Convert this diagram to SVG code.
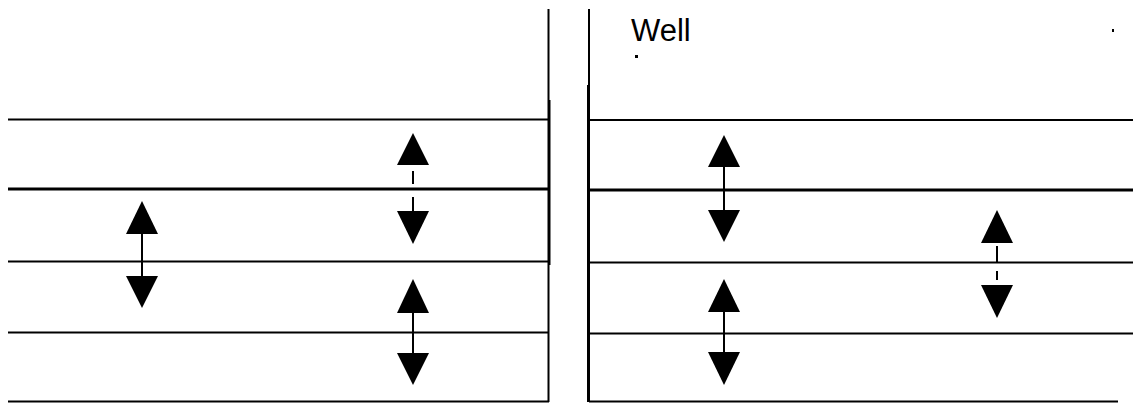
<svg xmlns="http://www.w3.org/2000/svg" width="1133" height="405" viewBox="0 0 1133 405">
<style>
.ln{stroke:#000;stroke-width:2;fill:none}
.thk{stroke:#000;stroke-width:3;fill:none}
.sh{stroke:#000;stroke-width:2;fill:none}
.hd{fill:#000;stroke:none}
.lbl{font-family:"Liberation Sans",Arial,sans-serif;font-size:31px;fill:#000}
</style>
<rect width="1133" height="405" fill="#fff"/>
<g id="panel-left">
<line class="ln" x1="8" y1="119.5" x2="549" y2="119.5"/>
<line class="thk" x1="8" y1="189" x2="549" y2="189"/>
<line class="ln" x1="8" y1="261.5" x2="549" y2="261.5"/>
<line class="ln" x1="8" y1="332.5" x2="549" y2="332.5"/>
<line class="ln" x1="8" y1="401.5" x2="549" y2="401.5"/>
<line class="ln" x1="548.5" y1="9" x2="548.5" y2="402"/>
<line class="ln" x1="549.5" y1="100" x2="549.5" y2="265"/>
</g>
<g id="panel-right">
<line class="ln" x1="589" y1="120" x2="1133" y2="120"/>
<line class="thk" x1="589" y1="190" x2="1133" y2="190"/>
<line class="ln" x1="589" y1="262.5" x2="1133" y2="262.5"/>
<line class="ln" x1="589" y1="333.5" x2="1133" y2="333.5"/>
<line class="ln" x1="589" y1="401.5" x2="1118" y2="401.5"/>
<line class="ln" x1="589" y1="9" x2="589" y2="402"/>
<line class="ln" x1="588" y1="85" x2="588" y2="402"/>
</g>
<g id="label-well">
<text class="lbl" x="631" y="41">Well</text>
<rect x="635" y="55" width="3" height="3" fill="#000"/>
<rect x="1112" y="29" width="2" height="3" fill="#000"/>
</g>
<g id="connectors">
<g id="arrow-1">
<polygon class="hd" points="142,201 126,234 158,234"/>
<line class="sh" x1="142" y1="234" x2="142" y2="277"/>
<polygon class="hd" points="126,276 158,276 142,308"/>
</g>
<g id="arrow-2">
<polygon class="hd" points="413,133 397,165 429,165"/>
<line class="sh" x1="413" y1="171" x2="413" y2="184"/>
<line class="sh" x1="413" y1="197" x2="413" y2="211"/>
<polygon class="hd" points="397,211 429,211 413,244"/>
</g>
<g id="arrow-3">
<polygon class="hd" points="413,279 397,313 429,313"/>
<line class="sh" x1="413" y1="313" x2="413" y2="354"/>
<polygon class="hd" points="397,353 429,353 413,385"/>
</g>
<g id="arrow-4">
<polygon class="hd" points="724,135 708,167 740,167"/>
<line class="sh" x1="724" y1="167" x2="724" y2="211"/>
<polygon class="hd" points="708,210 740,210 724,242"/>
</g>
<g id="arrow-5">
<polygon class="hd" points="724,279 708,312 740,312"/>
<line class="sh" x1="724" y1="312" x2="724" y2="353"/>
<polygon class="hd" points="708,352 740,352 724,385"/>
</g>
<g id="arrow-6">
<polygon class="hd" points="997,210 981,243 1013,243"/>
<line class="sh" x1="997" y1="246" x2="997" y2="262"/>
<line class="sh" x1="997" y1="271" x2="997" y2="280"/>
<polygon class="hd" points="981,285 1013,285 997,318"/>
</g>
</g>
</svg>
